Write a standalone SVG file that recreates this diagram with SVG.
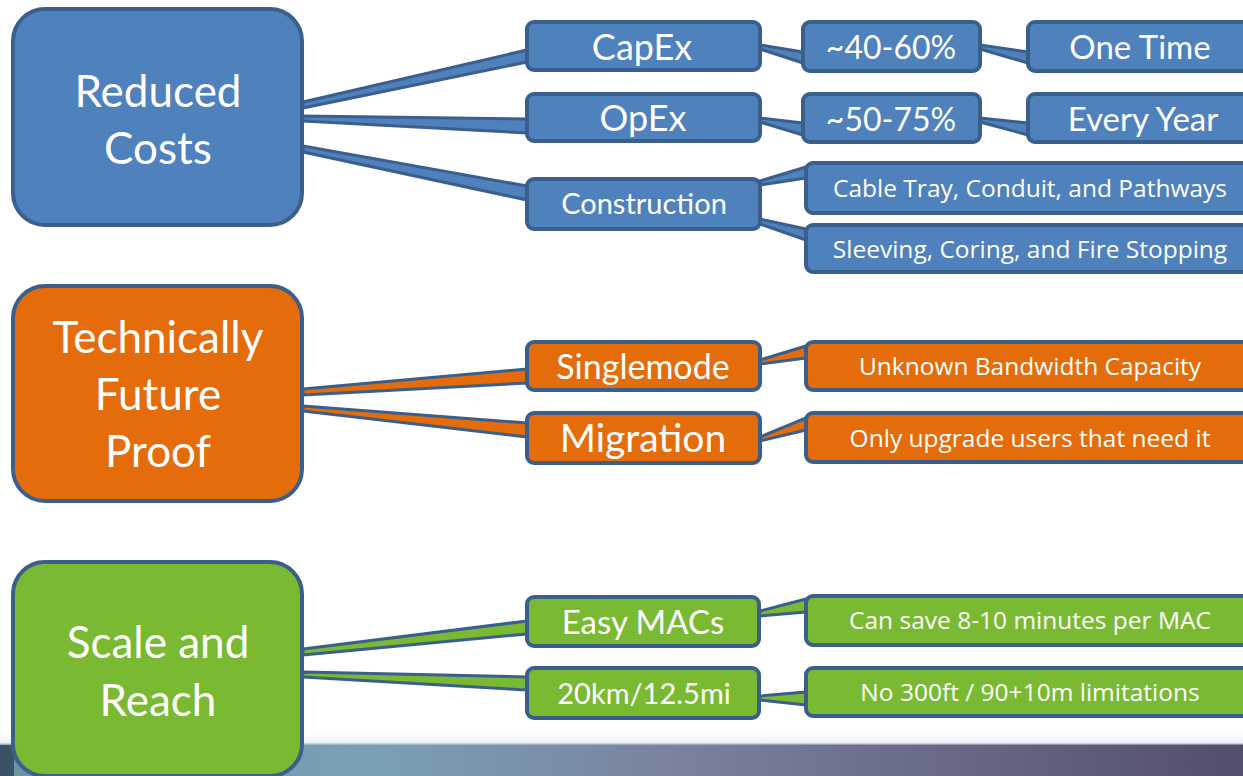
<svg xmlns="http://www.w3.org/2000/svg" width="1243" height="776" viewBox="0 0 1243 776">
<defs>
<linearGradient id="bar" x1="0" y1="0" x2="1" y2="0">
<stop offset="0" stop-color="#6a92aa"/>
<stop offset="0.3" stop-color="#79a0b6"/>
<stop offset="0.55" stop-color="#7a819d"/>
<stop offset="1" stop-color="#524e6b"/>
</linearGradient>
<linearGradient id="fade" x1="0" y1="0" x2="0" y2="1">
<stop offset="0" stop-color="#ffffff" stop-opacity="0"/>
<stop offset="1" stop-color="#e8eef2"/>
</linearGradient>
</defs>
<style>
.big{stroke:#3b5f8c;stroke-width:4}
.box{stroke:#3b5f8c;stroke-width:4}
.con{stroke:#3b5f8c;stroke-width:3;stroke-linejoin:round}
.b{fill:#4f81bd}
.o{fill:#e46c0a}
.g{fill:#7aba32}
text{fill:#ffffff;font-family:Lato,"Open Sans",sans-serif;text-anchor:middle}
.t1{font-size:44px}
.t3{font-size:24.5px;font-family:"Open Sans","Noto Sans",sans-serif}
</style>
<rect x="0" y="0" width="1243" height="776" fill="#ffffff"/>
<rect x="0" y="728" width="1243" height="15" fill="url(#fade)"/>
<rect x="0" y="743" width="1243" height="33" fill="url(#bar)"/>
<rect x="0" y="743" width="1243" height="1.5" fill="#c9d3dc"/>
<rect x="0" y="745" width="14" height="31" fill="#3a5266"/>

<g id="connectors">
<polygon class="con b" points="303,102 527,50 527,62 303,108"/>
<polygon class="con b" points="303,116 527,119 527,133 303,121"/>
<polygon class="con b" points="303,146 527,186 527,200 303,152"/>
<polygon class="con b" points="760,45 803,52 803,63 760,49"/>
<polygon class="con b" points="980,45 1028,52 1028,63 980,49"/>
<polygon class="con b" points="760,118 803,123 803,135 760,122"/>
<polygon class="con b" points="980,118 1028,123 1028,135 980,122"/>
<polygon class="con b" points="760,181 806,167 806,178 760,185"/>
<polygon class="con b" points="760,219 806,229 806,240 760,224"/>
<polygon class="con o" points="303,389 527,369 527,383 303,395"/>
<polygon class="con o" points="303,406 527,423 527,437 303,411"/>
<polygon class="con o" points="760,360 806,346 806,358 760,364"/>
<polygon class="con o" points="760,437 806,418 806,430 760,441"/>
<polygon class="con g" points="303,649 527,621 527,634 303,655"/>
<polygon class="con g" points="303,672 527,677 527,690 303,677"/>
<polygon class="con g" points="760,611 806,599 806,612 760,616"/>
<polygon class="con g" points="760,696 806,692 806,705 760,700"/>
</g>

<g id="reduced-costs">
<rect class="big b" x="13" y="9" width="289" height="216" rx="32"/>
<text class="t1" x="158" y="107">Reduced</text>
<text class="t1" x="158" y="164">Costs</text>
</g>
<g id="capex">
<rect class="box b" x="527" y="22" width="233" height="48" rx="7"/>
<text style="font-size:36px" x="642" y="60">CapEx</text>
</g>
<g id="capex-pct">
<rect class="box b" x="803" y="22" width="177" height="49" rx="7"/>
<text style="font-size:32px" x="891" y="59">~40-60%</text>
</g>
<g id="one-time">
<rect class="box b" x="1028" y="22" width="226" height="49" rx="7"/>
<text style="font-size:33px" x="1140" y="59">One Time</text>
</g>
<g id="opex">
<rect class="box b" x="527" y="94" width="233" height="47" rx="7"/>
<text style="font-size:36px" x="643" y="131">OpEx</text>
</g>
<g id="opex-pct">
<rect class="box b" x="803" y="94" width="177" height="48" rx="7"/>
<text style="font-size:32px" x="891" y="131">~50-75%</text>
</g>
<g id="every-year">
<rect class="box b" x="1028" y="94" width="226" height="48" rx="7"/>
<text style="font-size:33px" x="1143" y="131">Every Year</text>
</g>
<g id="construction">
<rect class="box b" x="527" y="179" width="233" height="50" rx="7"/>
<text style="font-size:29px" x="644" y="214">Construction</text>
</g>
<g id="cable-tray">
<rect class="box b" x="806" y="163" width="450" height="50" rx="7"/>
<text class="t3" x="1030" y="197">Cable Tray, Conduit, and Pathways</text>
</g>
<g id="sleeving">
<rect class="box b" x="806" y="225" width="450" height="47" rx="7"/>
<text class="t3" x="1030" y="258">Sleeving, Coring, and Fire Stopping</text>
</g>

<g id="future-proof">
<rect class="big o" x="13" y="286" width="289" height="215" rx="32"/>
<text class="t1" x="158" y="353">Technically</text>
<text class="t1" x="158" y="410">Future</text>
<text class="t1" x="158" y="467">Proof</text>
</g>
<g id="singlemode">
<rect class="box o" x="527" y="342" width="233" height="48" rx="7"/>
<text style="font-size:34px" x="643" y="379">Singlemode</text>
</g>
<g id="bandwidth">
<rect class="box o" x="806" y="342" width="450" height="48" rx="7"/>
<text class="t3" x="1030" y="375">Unknown Bandwidth Capacity</text>
</g>
<g id="migration">
<rect class="box o" x="527" y="413" width="233" height="50" rx="7"/>
<text style="font-size:39px" x="643" y="452">Migration</text>
</g>
<g id="upgrade">
<rect class="box o" x="806" y="413" width="450" height="49" rx="7"/>
<text class="t3" x="1030" y="447">Only upgrade users that need it</text>
</g>

<g id="scale-reach">
<rect class="big g" x="13" y="562" width="289" height="214" rx="32"/>
<text class="t1" x="158" y="658">Scale and</text>
<text class="t1" x="158" y="716">Reach</text>
</g>
<g id="easy-macs">
<rect class="box g" x="527" y="597" width="232" height="49" rx="7"/>
<text style="font-size:33px" x="643" y="634">Easy MACs</text>
</g>
<g id="save-minutes">
<rect class="box g" x="806" y="596" width="450" height="49" rx="7"/>
<text class="t3" x="1030" y="629">Can save 8-10 minutes per MAC</text>
</g>
<g id="distance">
<rect class="box g" x="527" y="668" width="232" height="50" rx="7"/>
<text style="font-size:29px" x="644" y="704">20km/12.5mi</text>
</g>
<g id="no-limit">
<rect class="box g" x="806" y="668" width="450" height="48" rx="7"/>
<text class="t3" x="1030" y="701">No 300ft / 90+10m limitations</text>
</g>
</svg>
